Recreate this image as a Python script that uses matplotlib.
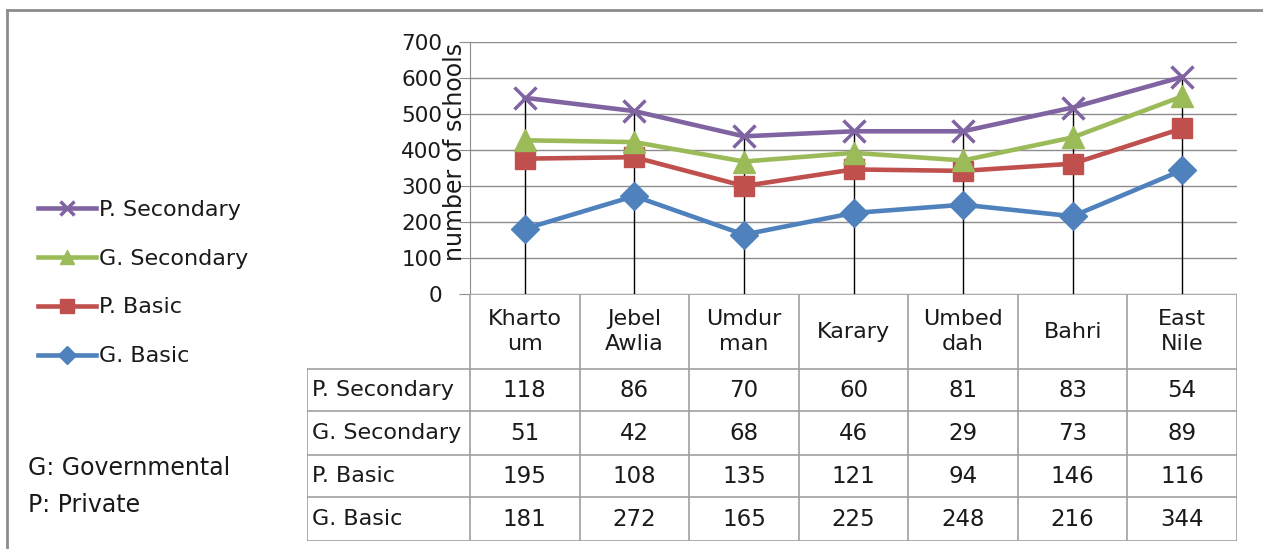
import numpy as np
import matplotlib
matplotlib.use("Agg")
import matplotlib.pyplot as plt
from matplotlib.lines import Line2D

plt.rcParams['font.family'] = ['DejaVu Sans']

regions = ["Kharto\num", "Jebel\nAwlia", "Umdur\nman", "Karary", "Umbed\ndah", "Bahri", "East\nNile"]
g_basic = [181, 272, 165, 225, 248, 216, 344]
p_basic = [195, 108, 135, 121, 94, 146, 116]
g_secondary = [51, 42, 68, 46, 29, 73, 89]
p_secondary = [118, 86, 70, 60, 81, 83, 54]
yticks = [0, 100, 200, 300, 400, 500, 600, 700]

series = [
    ("G. Basic", g_basic, "#4F81BD", "D", 14),
    ("P. Basic", p_basic, "#C0504D", "s", 15),
    ("G. Secondary", g_secondary, "#9BBB59", "^", 16),
    ("P. Secondary", p_secondary, "#8064A2", "x", 16),
]

W, H = 1263, 549
fig = plt.figure(figsize=(W / 100, H / 100), dpi=100)

def fx(px):
    return px / W

def fy(py):
    return 1 - py / H

txt = "#1a1a1a"

# outer frame (top and left edge only visible)
fig.add_artist(Line2D([fx(7), fx(7)], [fy(10), fy(549)], color="#8c8c8c", lw=2))
fig.add_artist(Line2D([fx(7), fx(1263)], [fy(10), fy(10)], color="#8c8c8c", lw=2))

ax_l, ax_r, ax_t, ax_b = 470, 1237, 42, 294
ax = fig.add_axes([fx(ax_l), fy(ax_b), fx(ax_r - ax_l), fy(ax_t) - fy(ax_b)])

x = np.arange(len(regions))
cum = np.zeros(len(regions))
handles = []
for name, vals, col, mk, ms in series:
    cum = cum + np.array(vals)
    h, = ax.plot(x, cum, color=col, lw=3.3, marker=mk, ms=ms,
                 mew=2.5 if mk == "x" else 1, mec=col, mfc=col, label=name, zorder=3)
    handles.append(h)

# drop lines
ax.vlines(x, 0, cum, color="black", lw=1, zorder=2)

ax.set_xlim(-0.5, len(regions) - 0.5)
ax.set_ylim(0, 700)
ax.set_yticks(yticks)
ax.set_xticks([])
ax.yaxis.grid(True, color="#8c8c8c", lw=1)
ax.set_axisbelow(True)
for s in ["top", "right", "bottom"]:
    ax.spines[s].set_visible(False)
ax.spines["left"].set_color("#8c8c8c")
ax.tick_params(axis="y", length=8, color="#8c8c8c", pad=12, labelsize=15.5, labelcolor=txt)
ax.set_ylabel("number of schools", fontsize=17, color=txt)
ax.yaxis.set_label_coords(-0.004, 0.565)

# data table
tb_l, tb_r, tb_t, tb_b = 307, 1237, 294, 541
tax = fig.add_axes([fx(tb_l), fy(tb_b), fx(tb_r - tb_l), fy(tb_t) - fy(tb_b)])
tax.set_xlim(tb_l, tb_r)
tax.set_ylim(tb_b, tb_t)
tax.axis("off")
cw = (ax_r - ax_l) / len(regions)
row_edges = [294, 369, 411, 455, 497, 541]
gc = "#a0a0a0"
for k in range(len(regions) + 1):
    tax.plot([ax_l + k * cw] * 2, [294, 541], color=gc, lw=1.2)
tax.plot([tb_l, tb_l], [369, 541], color=gc, lw=1.2)
tax.plot([ax_l, ax_r], [294, 294], color=gc, lw=1.2)
for ye in row_edges[1:]:
    tax.plot([tb_l, tb_r], [ye, ye], color=gc, lw=1.2)
for i, r in enumerate(regions):
    tax.text(ax_l + (i + 0.5) * cw, (294 + 369) / 2, r, ha="center", va="center",
             fontsize=16, color=txt, linespacing=1.3)
rows = list(reversed(series))
for j, (name, vals, col, mk, ms) in enumerate(rows):
    yc = (row_edges[j + 1] + row_edges[j + 2]) / 2
    tax.text(tb_l + 5, yc, name, ha="left", va="center", fontsize=16, color=txt)
    for i, v in enumerate(vals):
        tax.text(ax_l + (i + 0.5) * cw, yc, str(v), ha="center", va="center",
                 fontsize=16.5, color=txt)

# legend
fig.legend(handles[::-1], [h.get_label() for h in handles[::-1]],
           loc="center left", bbox_to_anchor=(fx(18), fy(283)), frameon=False,
           fontsize=16, handlelength=2.6, handletextpad=0.15, labelspacing=1.3,
           markerscale=0.65, labelcolor=txt)

fig.text(fx(28), fy(468), "G: Governmental", fontsize=17, va="center", color=txt)
fig.text(fx(28), fy(505), "P: Private", fontsize=17, va="center", color=txt)

fig.savefig("out.png", dpi=100)
